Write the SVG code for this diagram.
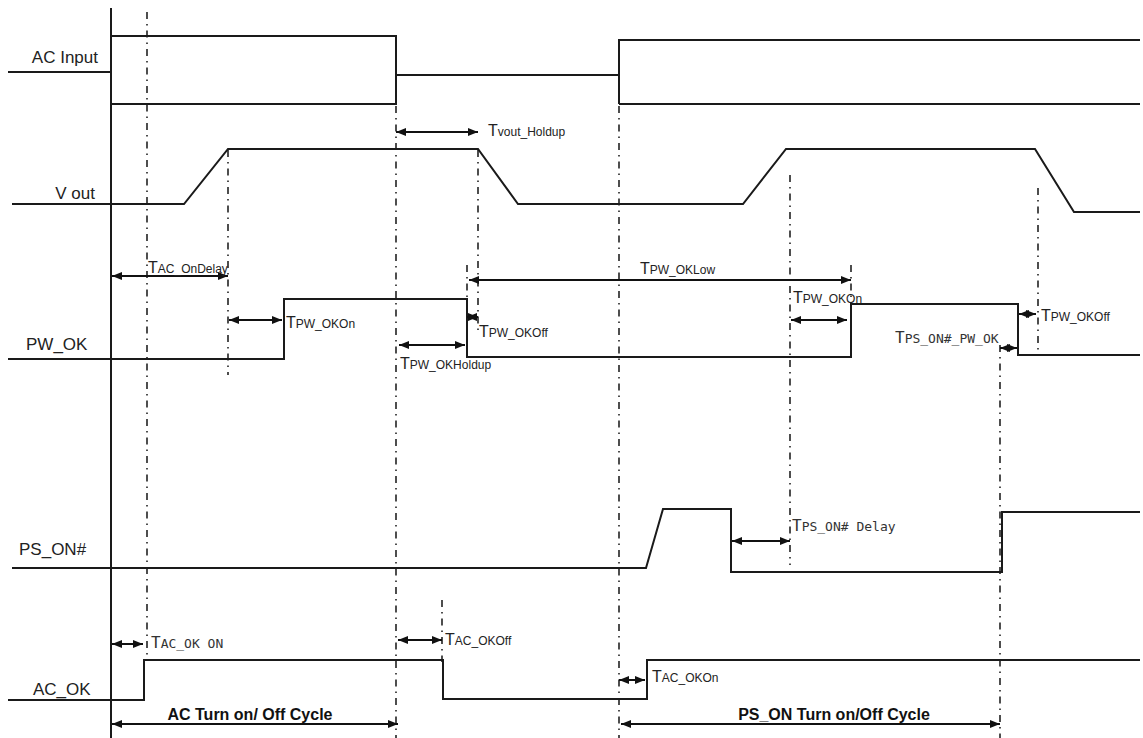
<svg xmlns="http://www.w3.org/2000/svg" width="1143" height="738" viewBox="0 0 1143 738">
<defs>
<marker id="ah" viewBox="0 0 10 8" refX="10" refY="4" markerWidth="11" markerHeight="8" markerUnits="userSpaceOnUse" orient="auto-start-reverse">
<path d="M0,0 L10,4 L0,8 z" fill="#111"/>
</marker>
<style>
.sig{fill:none;stroke:#1a1a1a;stroke-width:2;stroke-linejoin:miter}
.dd{fill:none;stroke:#222;stroke-width:1.6;stroke-dasharray:7 5 1.5 5}
.arr{fill:none;stroke:#111;stroke-width:2;marker-start:url(#ah);marker-end:url(#ah)}
.lbl{font-family:"Liberation Sans",Arial,sans-serif;font-size:17px;fill:#222}
.t{font-family:"Liberation Sans",Arial,sans-serif;font-size:16px;fill:#222}
.t .s{font-size:12px}
.m{font-family:"DejaVu Sans Mono","Liberation Mono",monospace;font-size:16px;fill:#333}
.m .s{font-size:13px}
.cyc{font-family:"Liberation Sans",Arial,sans-serif;font-size:16px;font-weight:bold;fill:#111}
</style>
</defs>
<rect width="1143" height="738" fill="#fff"/>
<g id="axis"><line x1="111" y1="8" x2="111" y2="738" stroke="#1a1a1a" stroke-width="2"/></g>
<g id="guides">
<line class="dd" x1="147" y1="12" x2="147" y2="655"/>
<line class="dd" x1="228" y1="150" x2="228" y2="375"/>
<line class="dd" x1="396" y1="106" x2="396" y2="738"/>
<line class="dd" x1="478" y1="150" x2="478" y2="335"/>
<line class="dd" x1="467" y1="265" x2="467" y2="300"/>
<line class="dd" x1="442" y1="600" x2="442" y2="662"/>
<line class="dd" x1="619" y1="106" x2="619" y2="738"/>
<line class="dd" x1="790" y1="175" x2="790" y2="565"/>
<line class="dd" x1="851" y1="265" x2="851" y2="302"/>
<line class="dd" x1="1038" y1="188" x2="1038" y2="350"/>
<line class="dd" x1="1000" y1="345" x2="1000" y2="738"/>
</g>
<g id="ac_input">
<text class="lbl" x="98" y="63" text-anchor="end">AC Input</text>
<path class="sig" d="M8,72 H111 M111,36 H396 V104 H111 M396,75 H619 M619,104 V40 H1140 M619,104 H1140"/>
</g>
<g id="vout">
<text class="lbl" x="95" y="199" text-anchor="end">V out</text>
<path class="sig" d="M12,204 H184 L228,149 H478 L518,204 H743 L786,149 H1035 L1074,212 H1140"/>
</g>
<g id="pw_ok">
<text class="lbl" x="26" y="350">PW_OK</text>
<path class="sig" d="M8,359 H284 V299 H467 V357 H851 V304 H1018 V355 H1140"/>
</g>
<g id="ps_on">
<text class="lbl" x="19" y="555">PS_ON#</text>
<path class="sig" d="M12,568 H646 L663,509 H731 V572 H1002 V512 H1140"/>
</g>
<g id="ac_ok">
<text class="lbl" x="33" y="695">AC_OK</text>
<path class="sig" d="M8,700 H144 V660 H443 V699 H647 V660 H1140"/>
</g>
<g id="connectors">
<line class="arr" x1="396" y1="132" x2="478" y2="132"/>
<line class="arr" x1="112" y1="276" x2="228" y2="276"/>
<line class="arr" x1="229" y1="320" x2="282" y2="320"/>
<line class="arr" x1="399" y1="345" x2="465" y2="345"/>
<line class="arr" x1="469" y1="280" x2="851" y2="280"/>
<line class="arr" x1="791" y1="320" x2="847" y2="320"/>
<line class="arr" x1="467" y1="317" x2="478" y2="317"/>
<line class="arr" x1="1019" y1="314" x2="1036" y2="314"/>
<line class="arr" x1="1000" y1="348" x2="1017" y2="348"/>
<line class="arr" x1="732" y1="541" x2="790" y2="541"/>
<line class="arr" x1="112" y1="644" x2="143" y2="644"/>
<line class="arr" x1="398" y1="640" x2="442" y2="640"/>
<line class="arr" x1="619" y1="680" x2="645" y2="680"/>
<line class="arr" x1="112" y1="724" x2="398" y2="724"/>
<line class="arr" x1="621" y1="724" x2="1000" y2="724"/>
</g>
<g id="labels">
<text class="t" x="488" y="136">T<tspan class="s">vout_Holdup</tspan></text>
<text class="t" x="148" y="273">T<tspan class="s">AC_OnDelay</tspan></text>
<text class="t" x="286" y="328">T<tspan class="s">PW_OKOn</tspan></text>
<text class="t" x="400" y="369">T<tspan class="s">PW_OKHoldup</tspan></text>
<text class="t" x="479" y="337">T<tspan class="s">PW_OKOff</tspan></text>
<text class="t" x="640" y="274">T<tspan class="s">PW_OKLow</tspan></text>
<text class="t" x="793" y="303">T<tspan class="s">PW_OKOn</tspan></text>
<text class="t" x="1041" y="321">T<tspan class="s">PW_OKOff</tspan></text>
<text class="m" x="895" y="343">T<tspan class="s">PS_ON#_PW_OK</tspan></text>
<text class="m" x="792" y="531">T<tspan class="s">PS_ON# Delay</tspan></text>
<text class="m" x="151" y="648">T<tspan class="s">AC_OK ON</tspan></text>
<text class="t" x="445" y="645">T<tspan class="s">AC_OKOff</tspan></text>
<text class="t" x="652" y="682">T<tspan class="s">AC_OKOn</tspan></text>
<text class="cyc" x="250" y="720" text-anchor="middle">AC Turn on/ Off Cycle</text>
<text class="cyc" x="834" y="720" text-anchor="middle">PS_ON Turn on/Off Cycle</text>
</g>
</svg>
